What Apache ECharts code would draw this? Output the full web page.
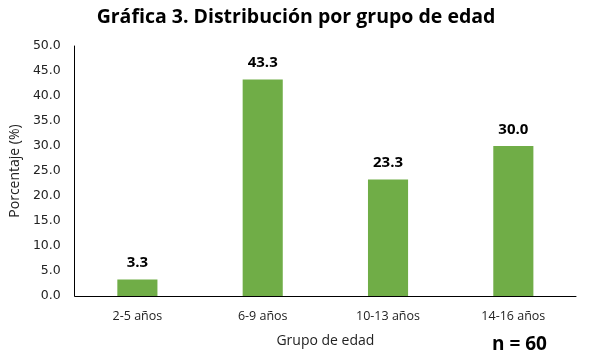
<!DOCTYPE html>
<html>
<head>
<meta charset="utf-8">
<script src="https://cdn.jsdelivr.net/npm/echarts@6/dist/echarts.min.js"></script>
<style>
  html, body { margin: 0; padding: 0; background: #fff; }
  #chart-container { width: 590px; height: 364px; }
</style>
</head>
<body>
<div id="chart-container"></div>
<script>
var categories = ['2-5 años', '6-9 años', '10-13 años', '14-16 años'];
var porcentajes = [3.3, 43.3, 23.3, 30.0];

var dom = document.getElementById('chart-container');
var myChart = echarts.init(dom, null, { renderer: 'canvas' });

var option = {
    animation: false,
    title: {
        text: 'Gráfica 3. Distribución por grupo de edad',
        left: 291,
        textAlign: 'center',
        top: 2,
        textStyle: {
            fontFamily: 'Open Sans',
            fontWeight: 'bold',
            fontSize: 19.5,
            color: '#000'
        }
    },
    graphic: [{
        type: 'text',
        left: 492,
        top: 335,
        style: {
            text: 'n = 60',
            font: 'bold 19px "Open Sans"',
            fill: '#000'
        }
    }],
    grid: {
        left: 68,
        right: 14,
        top: 46,
        bottom: 68
    },
    xAxis: {
        type: 'category',
        data: categories,
        name: 'Grupo de edad',
        nameLocation: 'middle',
        nameGap: 38,
        nameTextStyle: { fontFamily: 'Open Sans', fontSize: 14, color: '#222' },
        axisLine: { lineStyle: { color: '#000', width: 1 } },
        axisTick: { show: false },
        axisLabel: { fontFamily: 'Open Sans', fontSize: 12.5, color: '#222', margin: 14 }
    },
    yAxis: {
        type: 'value',
        min: 0,
        max: 50,
        interval: 5,
        name: 'Porcentaje (%)',
        nameLocation: 'middle',
        nameGap: 52,
        nameTextStyle: { fontFamily: 'Open Sans', fontSize: 14, color: '#222' },
        axisLine: { show: true, lineStyle: { color: '#000', width: 1 } },
        axisTick: { show: false },
        splitLine: { show: false },
        axisLabel: {
            fontFamily: 'DejaVu Sans',
            fontSize: 12.5,
            color: '#222',
            margin: 14,
            formatter: function (v) { return v.toFixed(1); }
        }
    },
    series: [{
        type: 'bar',
        data: porcentajes,
        barWidth: '32%',
        itemStyle: { color: '#70AD47' },
        label: {
            show: true,
            position: 'top',
            distance: 9,
            fontFamily: 'Open Sans',
            fontWeight: 'bold',
            fontSize: 15,
            color: '#000',
            formatter: function (p) { return p.value.toFixed(1); }
        }
    }]
};

myChart.setOption(option);
window.addEventListener('resize', myChart.resize);
</script>
</body>
</html>
